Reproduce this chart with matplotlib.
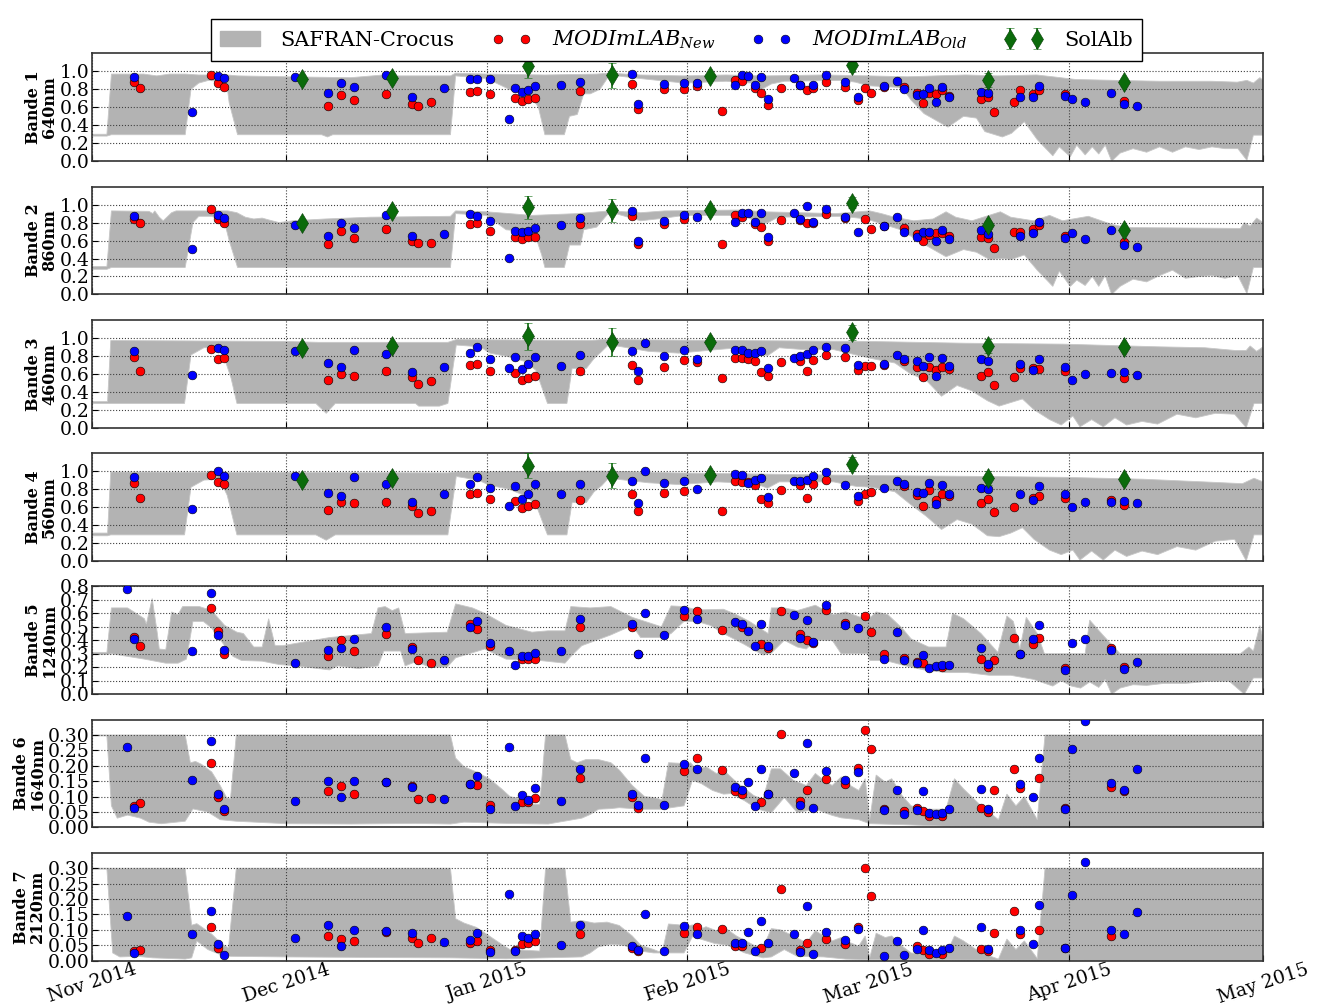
import numpy as np
import matplotlib
matplotlib.use('Agg')
import matplotlib.pyplot as plt
import matplotlib.dates as mdates
from matplotlib.patches import Patch
from matplotlib.lines import Line2D
from datetime import datetime

plt.rcParams['font.family'] = 'DejaVu Serif'
plt.rcParams['mathtext.fontset'] = 'dejavuserif'

n = np.nan
start = datetime(2014, 11, 1)

# ---- observation days (days since 1 Nov 2014, overpass ~10:30) ----
obs_days = [5, 6, 7, 15, 18, 19, 20,
            31, 36, 38, 40, 45,
            49, 50, 52, 54,
            58, 59, 61,
            64, 65, 66, 67, 68,
            72, 75,
            83, 84, 85,
            88, 91, 93, 97,
            99, 100, 101, 102, 103, 104,
            106, 108, 109, 110, 111, 113,
            116, 118, 119, 120,
            122, 124, 125, 127, 128, 129, 130, 131, 132,
            137, 138, 139,
            142, 143, 145, 146,
            150, 151, 153,
            157, 159, 161]

# MODImLAB new / old, per band
b1_new = [n, .88, .82, n, .96, .87, .83,
          n, .62, .74, .68, .75,
          .64, .62, .66, n,
          .77, .78, .75,
          n, .70, .67, .69, .70,
          n, .78,
          .86, .58, n,
          .805, .80, .84, .56,
          .90, .89, n, .81, .76, .63,
          .81, n, .85, .79, .82, .88,
          .83, .68, .82, .76,
          .83, n, .83, .76, .65, .76, .75, .79, .73,
          .69, .72, .55,
          .66, .79, .75, .79,
          .75, n, n,
          n, .67, n]
b1_old = [n, .94, n, .55, n, .95, .93,
          .94, .76, .87, .83, .96,
          .71, n, n, .82,
          .92, .92, .91,
          .47, .82, .77, .79, .84,
          .85, .88,
          .97, .64, n,
          .86, .87, .87, n,
          .85, .96, .95, .85, .94, .69,
          n, .93, .85, n, .85, .96,
          .88, .71, n, n,
          .84, .89, .80, .74, .75, .82, .66, .83, .72,
          .77, .76, n,
          n, .72, .72, .84,
          .73, .69, .66,
          .76, .64, .62]
b2_new = [n, .835, .80, n, .955, .84, .79,
          n, .56, .71, .63, .73,
          .60, .57, .57, n,
          .78, .79, .71,
          n, .64, .62, .64, .64,
          n, .78,
          .87, .56, n,
          .78, .835, n, .56,
          .88, .865, n, .78, .75, .60,
          .83, n, .83, .79, .80, .90,
          .85, n, .835, .73,
          .76, n, .745, .67, .60, .66, .685, .685, .65,
          .64, .63, .52,
          .69, .69, .73, .77,
          .655, n, n,
          n, .585, n]
b2_old = [n, .87, n, .51, n, .88, .85,
          .77, .65, .79, .74, .89,
          .65, n, n, .67,
          .90, .87, .82,
          .41, .71, .70, .71, .74,
          .77, .85,
          .93, .60, n,
          .82, .88, .865, n,
          .81, .91, .91, .81, .91, .64,
          n, .91, .84, .98, .81, .95,
          .865, .69, n, n,
          .76, .865, .70, .64, .70, .70, .595, .72, .62,
          .72, .67, n,
          n, .65, .68, .805,
          .63, .685, .62,
          .72, .55, .53]
b3_new = [n, .79, .63, n, .88, .77, .78,
          n, .53, .60, .58, .63,
          .56, .49, .52, n,
          .70, .71, .63,
          n, .61, .53, .55, .57,
          n, .63,
          .70, .53, n,
          .68, .75, .73, .55,
          .78, .78, .76, .74, .62, .58,
          .73, n, .74, .63, .75, .81,
          .79, .64, .69, .69,
          .70, n, .74, .68, .56, .68, .64, .68, .65,
          .58, .62, .48,
          .56, .67, .66, .65,
          .63, n, n,
          n, .55, n]
b3_old = [n, .85, n, .59, n, .89, .87,
          .85, .72, .68, .87, .82,
          .62, n, n, .68,
          .83, .90, .76,
          .67, .79, .65, .71, .79,
          .69, .81,
          .85, .63, .94,
          .80, .87, .77, n,
          .87, .87, .83, .83, .85, .67,
          n, .78, .80, .82, .87, .90,
          .89, .70, n, n,
          .71, .81, .77, .74, .69, .79, .57, .78, .69,
          .76, .74, n,
          n, .71, .64, .76,
          .68, .53, .60,
          .61, .62, .59]
b4_new = [n, .87, .70, n, .955, .875, .86,
          n, .57, .66, .64, .66,
          .61, .53, .56, n,
          .75, .76, .69,
          n, .67, .585, .61, .63,
          n, .68,
          .75, .56, n,
          .76, .78, n, .56,
          .89, .88, .88, .84, .69, .645,
          .79, n, .845, .70, .86, .90,
          n, .67, .75, .77,
          n, n, .83, .73, .61, .785, .68, .74, .72,
          .65, .69, .54,
          .60, n, .705, .72,
          .70, n, n,
          .68, .62, n]
b4_old = [n, .93, n, .58, n, 1.0, .94,
          .94, .755, .725, .93, .86,
          .66, n, n, .75,
          .86, .93, .81,
          .61, .83, .69, .75, .86,
          .74, .86,
          .89, .64, 1.0,
          .87, .89, .80, n,
          .97, .955, .87, .905, .92, .71,
          n, .89, .89, .905, .95, .99,
          .85, .72, n, n,
          .81, .89, .86, .77, .755, .87, .63, .84, .74,
          .81, .80, n,
          n, .75, .68, .83,
          .74, .60, .66,
          .66, .67, .64]
b5_new = [n, .425, .36, n, .64, .47, .30,
          n, .28, .40, .32, .45,
          .35, .25, .23, n,
          .52, .48, .36,
          n, n, .26, .26, .26,
          n, .50,
          .50, .30, n,
          n, .58, .615, .475,
          n, .50, n, n, .37, .34,
          .62, n, .45, .405, .38, .625,
          .53, n, .58, .46,
          .30, n, .27, .235, .23, n, n, .20, n,
          .26, .20, .25,
          .42, .30, .37, .42,
          .195, n, n,
          .34, .20, n]
b5_old = [.78, .41, n, .32, .75, .44, .33,
          .23, .33, .345, .41, .50,
          .335, n, n, .25,
          .50, .54, .38,
          .32, .22, .285, .28, .305,
          .32, .56,
          .52, .30, .60,
          .44, .625, .56, n,
          .535, .52, .47, .355, .52, .355,
          n, .59, .42, .55, .39, .665,
          .51, .49, n, n,
          .26, .46, .25, .23, .29, .195, .21, .22, .22,
          .345, .225, n,
          n, .295, .41, .51,
          .18, .38, .41,
          .33, .19, .24]
b6_new = [n, .07, .078, n, .21, .099, .053,
          n, .117, .133, .11, .147,
          .133, .093, .097, n,
          .14, .137, .073,
          n, n, .084, .082, .097,
          n, .16,
          .10, .064, n,
          n, .183, .224, .185,
          .118, .11, n, n, .084, .11,
          .303, n, .086, .12, n, .157,
          .142, .193, .317, .256,
          .059, n, .052, .062, .054, .037, n, .037, n,
          .064, .051, .122,
          .19, .127, n, .16,
          .064, n, n,
          .131, .117, n]
b6_old = [.262, .062, n, .154, .28, .108, .06,
          .087, .152, .10, .152, .147,
          .13, n, n, .092,
          .14, .167, .06,
          .26, .068, .105, .09, .128,
          .087, .19,
          .11, .073, .225,
          .074, .207, .19, n,
          .132, .12, .147, .07, .19, .108,
          n, .177, .074, .274, .062, .183,
          .154, .18, n, n,
          .055, .122, .045, .055, .117, .047, .042, .047, .059,
          .124, .059, n,
          n, .14, .10, .225,
          .061, .254, .345,
          .145, .12, .19]
b7_new = [n, .031, .036, n, .11, .042, n,
          n, .08, .07, .063, .093,
          .074, .057, .073, n,
          .056, .065, .034,
          n, .036, .055, .057, .064,
          n, .085,
          .04, .03, n,
          n, .09, .11, .104,
          .047, .047, n, n, .042, n,
          .234, n, .034, .058, n, .069,
          .053, .11, .302, .21,
          n, n, n, .047, .033, .02, n, .02, n,
          .037, .03, .09,
          .162, .087, n, .10,
          .04, n, n,
          .081, n, n]
b7_old = [.145, .025, n, .085, .16, .053, .017,
          .075, .117, .047, .098, .095,
          .09, n, n, .06,
          .066, .09, .028,
          .215, .03, .08, .073, .088,
          .05, .116,
          .048, .036, .153,
          .03, .114, .087, n,
          .058, .058, .092, .03, .13, .058,
          n, .085, .029, .177, .02, .092,
          .067, .102, n, n,
          .015, .063, .018, .038, .098, .033, .025, .033, .042,
          .108, .037, n,
          n, .10, .055, .179,
          .04, .214, .319,
          .098, .087, .157]

# ---- SolAlb (bands 1-4) ----
sol_days = [32, 46, 67, 80, 95, 117, 138, 159]
sol_b1 = [0.91, 0.93, 1.06, 0.955, 0.95, 1.07, 0.905, 0.88]
sol_b2 = [0.80, 0.925, 0.97, 0.935, 0.935, 1.02, 0.77, 0.72]
sol_b3 = [0.89, 0.91, 1.02, 0.95, 0.95, 1.06, 0.91, 0.90]
sol_b4 = [0.905, 0.925, 1.06, 0.95, 0.96, 1.08, 0.925, 0.91]
err_b1 = [0, 0, 0.13, 0.135, 0, 0.08, 0.075, 0]
err_b2 = [0, 0, 0.13, 0.125, 0, 0.06, 0.04, 0]
err_b3 = [0, 0, 0.15, 0.155, 0, 0.086, 0.073, 0]
err_b4 = [0, 0, 0.14, 0.14, 0, 0.08, 0.075, 0]

# ---- SAFRAN-Crocus envelope (day, value) ----
b1_hi = [(0, .30), (2.3, .30), (3.0, .97), (8, .97), (10, .95), (12, .97), (14.4, .97), (16.5, .96),
         (21, .96), (22.5, .95), (30, .94), (40, .93), (45, .96), (47, .95), (55.4, .95), (56.2, .98),
         (61, .97), (70, .96), (78, .97), (80, .98), (84.8, .96), (91.5, .95), (98, .96), (104, .95),
         (113, .96), (120, .95), (126, .94), (135, .96), (140, .95), (146, .96), (148.5, .94), (152, .91),
         (158, .90), (165, .89), (173, .89), (177, .88), (178.5, .90), (179.5, .87), (180.5, .93), (181, .90)]
b1_lo = [(0, .28), (2.3, .28), (3.0, .295), (14.4, .295), (15.3, .80), (16.5, .87), (18, .90), (20.8, .88),
         (21.2, .65), (22.5, .295), (35.5, .295), (36.4, .27), (37.2, .295), (55.4, .295), (56.2, .95),
         (61, .92), (64.5, .80), (67.8, .73), (69, .60), (70, .295), (73, .295), (73.8, .50), (75, .52),
         (76, .75), (77, .75), (78.5, .80), (80, .96), (84.8, .92), (91.5, .87), (98, .89), (102, .87),
         (103.5, .80), (105, .86), (107, .89), (116, .90), (118, .88), (120, .84), (125.2, .82),
         (126.6, .68), (128.6, .53), (132.3, .38), (134.7, .50), (136.7, .48), (138, .33), (140.7, .27),
         (142.1, .31), (144.1, .44), (146.1, .24), (148.5, .06), (149.5, .16), (151.2, .05), (152.2, .18),
         (153.5, .07), (154.6, .16), (155.6, .08), (156.6, .18), (157.6, .0), (158.9, .09), (160.9, .14),
         (163, .10), (165, .16), (167, .10), (169, .16), (171.1, .13), (173.1, .16), (175.1, .14),
         (177.1, .14), (178.5, .01), (179.5, .29), (181, .29)]
b2_hi = [(0, .31), (2.3, .31), (3.0, .93), (8.8, .925), (9.4, .90), (9.7, .93), (10.4, .86), (11, .82),
         (12.3, .91), (13, .93), (21, .93), (22.4, .91), (23.7, .86), (25, .84), (26.3, .85), (27.3, .83),
         (28.9, .80), (31, .82), (36, .84), (43, .86), (55.4, .87), (56.2, .93), (61, .92), (68, .88),
         (75, .90), (80, .93), (84.8, .91), (88.5, .93), (100, .94), (104, .92), (115, .90), (120.2, .93),
         (122, .90), (124, .86), (127, .82), (130, .84), (132, .92), (133.5, .86), (136, .82), (140.4, .92),
         (142, .86), (145.5, .82), (148, .88), (150, .82), (154, .87), (157.6, .78), (160, .745),
         (177.5, .735), (178.1, .80), (179, .76), (180, .85), (181, .80)]
b2_lo = [(0, .28), (2.3, .28), (3.0, .30), (14.4, .30), (15.6, .80), (16.5, .87), (18.5, .87), (20.5, .80),
         (21.2, .60), (22.5, .30), (55.4, .30), (56.2, .90), (61, .88), (64, .72), (67, .70), (68.5, .66),
         (69.5, .44), (70, .30), (73, .30), (73.8, .55), (75.5, .55), (76, .72), (78, .75), (80, .92),
         (84.8, .82), (88.5, .85), (91.5, .88), (101, .88), (103, .78), (104.5, .80), (106, .86), (116, .87),
         (119.7, .84), (125, .72), (127.9, .59), (129.3, .53), (132, .42), (134.7, .50), (136.7, .47),
         (138.7, .39), (140.7, .40), (142.1, .39), (144.1, .44), (146.1, .27), (148.5, .09), (149.5, .26),
         (151.2, .09), (152.2, .16), (153.5, .10), (154.6, .20), (155.6, .09), (156.6, .21), (157.6, .0),
         (158.9, .09), (160.9, .17), (163, .14), (165, .21), (167, .27), (169, .18), (171.1, .20),
         (173.1, .21), (175.1, .18), (177.1, .21), (178.5, .01), (179.5, .30), (181, .30)]
b3_hi = [(0, .29), (2.4, .29), (2.9, .97), (30, .96), (35, .95), (55, .95), (56.3, .98), (77, .97),
         (78.8, .98), (120, .96), (135, .94), (150, .93), (165, .90), (172, .89), (176.6, .86),
         (178.4, .86), (179, .91), (180, .85), (181, .90)]
b3_lo = [(0, .27), (2.4, .27), (14.3, .27), (15.3, .81), (17.3, .89), (19.5, .89), (20.3, .81),
         (21.5, .55), (22.4, .27), (34.6, .27), (36.2, .16), (37.6, .27), (50, .27), (50.5, .24),
         (53.7, .24), (55, .27), (56.3, .92), (60, .90), (61.5, .83), (64.4, .79), (66.8, .74),
         (68.6, .64), (70.4, .27), (73.4, .27), (74.2, .66), (76.4, .66), (77.6, .77), (78.8, .85),
         (80.2, .95), (81.1, .91), (86, .85), (90.7, .83), (96.7, .87), (100, .89), (102.6, .85),
         (104.4, .80), (106.2, .89), (109.8, .87), (114.6, .87), (118.1, .81), (120.5, .77), (124.1, .72),
         (126.5, .60), (128.9, .53), (131.3, .35), (133.7, .47), (136, .41), (138.4, .30), (140.2, .24),
         (142, .28), (143.8, .32), (145.6, .20), (148, .09), (149.8, .03), (151.6, .13), (152.7, .01),
         (154.5, .09), (156.3, .01), (158.1, .11), (159.9, .03), (162.3, .07), (164.7, .04), (167.7, .15),
         (170.6, .11), (173.6, .16), (176.6, .15), (178.4, .0), (179.6, .27), (181, .27)]
b4_hi = [(0, .31), (2.4, .31), (2.9, .99), (55, .98), (56.3, .99), (78.8, 1.0), (90, .98), (120.5, .95),
         (138.4, .94), (150.5, .93), (162.3, .91), (171.8, .88), (177.8, .86), (179.6, .92), (181, .88)]
b4_lo = [(0, .28), (2.4, .28), (2.9, .29), (14.3, .29), (15.3, .82), (17.3, .90), (19.7, .91),
         (20.9, .73), (22.4, .29), (34.6, .29), (36.2, .23), (37.6, .29), (55, .29), (56.3, .94),
         (59.7, .90), (61.5, .84), (64.4, .80), (66.8, .73), (68.6, .63), (70.4, .29), (73.4, .29),
         (74.2, .65), (76.4, .65), (77.6, .77), (78.8, .84), (80.2, .95), (81.1, .91), (86, .87),
         (90.7, .85), (96.7, .88), (102.6, .86), (104.4, .81), (106.2, .88), (114.6, .88), (118.1, .83),
         (120.5, .82), (124.1, .77), (126.5, .63), (128.9, .50), (131.3, .35), (133.7, .46), (136, .41),
         (138.4, .28), (140.2, .27), (142, .31), (143.8, .37), (145.6, .24), (148, .12), (149.8, .07),
         (151.6, .12), (152.7, .01), (154.5, .11), (156.3, .01), (158.1, .12), (159.9, .05), (162.3, .11),
         (164.7, .07), (167.7, .16), (170.6, .12), (173.6, .22), (176.6, .24), (178.4, .0), (179.6, .29),
         (181, .29)]
b5_hi = [(0, .31), (2.3, .31), (3.0, .64), (5.5, .64), (8.1, .56), (8.4, .52), (9.3, .71), (10.1, .45),
         (10.4, .335), (11.4, .33), (12.3, .61), (13.3, .59), (14.0, .65), (16.6, .65), (18.5, .62),
         (20.5, .51), (22.4, .46), (23.4, .45), (25, .35), (26.3, .35), (27.3, .56), (28.3, .36),
         (29.5, .36), (36.7, .42), (43.2, .45), (44.2, .64), (45.3, .65), (46.4, .62), (47.4, .64),
         (48.4, .45), (54.9, .46), (56.2, .67), (58.8, .64), (60.7, .60), (64, .51), (68, .46), (70.5, .47),
         (73.1, .47), (74, .65), (77, .64), (80.2, .65), (83.5, .57), (84.8, .55), (88, .50), (89.5, .655),
         (91.5, .65), (93.5, .625), (97.6, .63), (99.6, .59), (101.6, .54), (104.5, .45), (105, .64),
         (107, .64), (109, .62), (111.8, .66), (114.5, .59), (116.5, .61), (118.5, .575), (119.9, .55),
         (121.2, .61), (123, .59), (125.2, .49), (126.6, .41), (129.3, .35), (132, .35), (133, .60),
         (134.7, .56), (137.4, .45), (140, .31), (141.4, .58), (142.4, .54), (143.4, .335), (144.4, .57),
         (146.1, .45), (147.2, .30), (153.5, .30), (154.2, .55), (156.2, .44), (158.9, .30), (177.5, .30),
         (178.8, .35), (179.5, .32), (180.5, .51), (181, .41)]
b5_lo = [(0, .295), (2.3, .295), (3.0, .30), (8.1, .26), (11.4, .23), (13.3, .23), (14.6, .26),
         (15.6, .54), (17.2, .54), (18.5, .49), (20.5, .36), (21.8, .28), (23.1, .25), (26.3, .245),
         (28.9, .22), (31.5, .21), (36.7, .18), (38, .21), (41.2, .19), (44.2, .21), (45.1, .32),
         (47.7, .32), (48.4, .21), (50, .24), (52.3, .20), (54.9, .20), (56.2, .27), (60.7, .335),
         (64, .26), (69.2, .25), (73.1, .23), (74, .28), (75.7, .36), (80.2, .44), (83.5, .51),
         (84.8, .42), (88, .42), (89.5, .45), (91.5, .54), (93.5, .54), (95.6, .51), (98, .44),
         (100.8, .37), (103.7, .29), (105, .305), (107, .40), (109, .35), (110.4, .335), (111.8, .40),
         (114.4, .40), (115.8, .30), (119.9, .30), (120.2, .25), (122.6, .25), (126.6, .20), (128.6, .18),
         (132, .16), (135.3, .16), (138.7, .14), (142, .14), (145.5, .11), (148.5, .06), (149.8, .10),
         (151.4, .06), (152.8, .045), (154.2, .09), (155.6, .05), (156.6, .11), (157.6, .0), (158.9, .045),
         (160.9, .07), (163, .065), (165.7, .08), (169, .08), (172.4, .095), (175.8, .095), (178.1, .0),
         (179.5, .12), (181, .12)]
b6_hi = [(0, .30), (14.4, .30), (15.2, .21), (16.0, .214), (16.9, .205), (18.5, .18), (19.8, .136),
         (20.8, .097), (21.4, .092), (22.3, .30), (55.4, .30), (56.2, .225), (57.5, .197), (59.4, .18),
         (61.4, .158), (63.3, .125), (64.6, .10), (65.9, .094), (67.9, .075), (69.2, .075), (70.1, .30),
         (73.1, .30), (74, .22), (75, .21), (76.3, .22), (78.3, .22), (80.2, .21), (81.5, .186),
         (83.5, .136), (85.4, .10), (86.8, .097), (88.1, .09), (89.1, .21), (91, .208), (91.5, .20),
         (92.5, .21), (93.5, .186), (94.9, .197), (96.5, .175), (97.6, .186), (99.6, .147), (102.3, .103),
         (103.7, .092), (105, .19), (106.4, .19), (108.4, .153), (110.4, .136), (111.8, .175),
         (113.1, .153), (114.4, .136), (115.8, .164), (117.2, .136), (118.5, .12), (119.5, .158),
         (120.2, .025), (121.2, .17), (122.6, .147), (123.6, .158), (125.2, .103), (126.6, .07),
         (128.6, .059), (132, .059), (133.3, .158), (134.7, .125), (137.4, .07), (140.1, .025),
         (141.4, .108), (142.8, .07), (144.1, .10), (146.1, .025), (147.3, .30), (181, .30)]
b6_lo = [(0, .297), (2.3, .297), (3.0, .07), (3.9, .03), (5.5, .04), (7.5, .03), (8.8, .017),
         (10.7, .012), (14.4, .02), (15.6, .06), (17.9, .05), (19.8, .025), (22.3, .02), (30, .012),
         (40, .011), (50, .013), (55.4, .011), (57.5, .017), (64, .013), (70.5, .011), (75.7, .03),
         (77, .042), (78.3, .059), (80.2, .061), (81.5, .064), (84.8, .059), (88.1, .059), (89.5, .064),
         (91.5, .07), (92.8, .153), (94.2, .142), (95.9, .12), (97.6, .108), (98.9, .11), (100.9, .086),
         (102.9, .059), (105, .048), (107, .097), (109, .048), (111.8, .059), (114.4, .039), (115.8, .031),
         (118.5, .025), (120.2, .012), (125.2, .009), (132, .004), (138.7, .003), (147.3, .003), (152, .0),
         (181, .0)]
b7_hi = [(0, .30), (14.4, .30), (15.4, .115), (16.2, .12), (16.9, .11), (18.5, .086), (20.1, .053),
         (21.1, .042), (22.3, .30), (55.4, .30), (56.2, .136), (57.5, .122), (59.4, .108), (61.4, .08),
         (63.3, .053), (64.6, .036), (66.6, .034), (69.2, .031), (70.1, .30), (73.1, .30), (74, .125),
         (75.7, .13), (77.6, .122), (79.6, .125), (81.5, .114), (83.5, .08), (84.8, .05), (86.8, .036),
         (88.1, .025), (89.1, .119), (90.8, .116), (91.5, .11), (92.8, .116), (93.8, .10), (94.9, .11),
         (96.5, .097), (97.6, .11), (99.6, .08), (102.3, .05), (103.7, .042), (105, .104), (106.4, .10),
         (108.4, .08), (110.4, .058), (111.8, .097), (113.1, .08), (114.4, .064), (115.8, .075),
         (117.2, .058), (118.5, .047), (119.5, .08), (120.2, .009), (121.2, .089), (122.6, .075),
         (123.6, .08), (125.2, .047), (126.6, .025), (128.6, .02), (132, .02), (133.3, .08), (134.7, .064),
         (137.4, .025), (140.1, .005), (141.4, .07), (142.8, .036), (144.1, .064), (146.1, .007),
         (147.3, .30), (181, .30)]
b7_lo = [(0, .297), (2.3, .297), (3.2, .025), (4.3, .012), (7, .014), (9.4, .009), (12, .007),
         (14.4, .005), (15.4, .009), (16.2, .064), (17.9, .036), (19.8, .02), (21.4, .014), (30, .012),
         (45, .01), (55.4, .009), (64, .006), (75.7, .012), (77, .025), (78.3, .045), (80.2, .053),
         (82.2, .05), (84.1, .033), (86.8, .025), (91.5, .025), (92.8, .078), (94.2, .069), (96.2, .056),
         (98.2, .05), (100.9, .025), (103.7, .009), (105, .012), (107, .036), (109, .014), (113.1, .012),
         (116.5, .005), (120.2, .003), (147.3, .001), (181, .0)]

band_names = ['Bande 1\n640nm', 'Bande 2\n860nm', 'Bande 3\n460nm', 'Bande 4\n560nm',
              'Bande 5\n1240nm', 'Bande 6\n1640nm', 'Bande 7\n2120nm']
new_vals = [b1_new, b2_new, b3_new, b4_new, b5_new, b6_new, b7_new]
old_vals = [b1_old, b2_old, b3_old, b4_old, b5_old, b6_old, b7_old]
env_hi = [b1_hi, b2_hi, b3_hi, b4_hi, b5_hi, b6_hi, b7_hi]
env_lo = [b1_lo, b2_lo, b3_lo, b4_lo, b5_lo, b6_lo, b7_lo]
sol_vals = [sol_b1, sol_b2, sol_b3, sol_b4]
sol_errs = [err_b1, err_b2, err_b3, err_b4]

green = '#0b6b0b'
t0 = mdates.date2num(start)
x_obs = t0 + np.array(obs_days) + 10.5 / 24
x_sol = t0 + np.array(sol_days) + 10.5 / 24

fig, axes = plt.subplots(7, 1, sharex=True, figsize=(13.24, 10.08), dpi=100)
fig.subplots_adjust(left=0.0695, right=0.954, top=0.947, bottom=0.047, hspace=0.236)

sol_handle = None
for i, ax in enumerate(axes):
    hi = np.array(env_hi[i])
    lo = np.array(env_lo[i])
    px = np.concatenate([t0 + hi[:, 0], t0 + lo[::-1, 0]])
    py = np.concatenate([hi[:, 1], lo[::-1, 1]])
    ax.fill(px, py, facecolor='0.7', edgecolor='0.78', lw=0.6, zorder=1)

    ax.plot(x_obs, new_vals[i], 'o', color='red', ms=6.3, mec='k', mew=0.4, zorder=3)
    ax.plot(x_obs, old_vals[i], 'o', color='blue', ms=6.3, mec='k', mew=0.4, zorder=3)
    if i < 4:
        eb = ax.errorbar(x_sol, sol_vals[i], yerr=sol_errs[i], fmt='d', color=green,
                         ms=10, mec='#063d06', mew=0.4, capsize=3, elinewidth=1.2, zorder=4)
        if sol_handle is None:
            sol_handle = eb

    if i < 4:
        ax.set_ylim(0, 1.2)
        ax.set_yticks(np.arange(0, 1.01, 0.2))
        ax.yaxis.set_major_formatter(plt.FormatStrFormatter('%.1f'))
    elif i == 4:
        ax.set_ylim(0, 0.8)
        ax.set_yticks(np.arange(0, 0.81, 0.1))
        ax.yaxis.set_major_formatter(plt.FormatStrFormatter('%.1f'))
    else:
        ax.set_ylim(0, 0.35)
        ax.set_yticks(np.arange(0, 0.301, 0.05))
        ax.yaxis.set_major_formatter(plt.FormatStrFormatter('%.2f'))

    ax.set_xlim(t0, mdates.date2num(datetime(2015, 5, 1)))
    ax.grid(True, linestyle=':', color='0.25', lw=0.8)
    ax.tick_params(direction='in', length=4, labelsize=13.5, pad=2)
    for s in ax.spines.values():
        s.set_color('0.2')
        s.set_linewidth(1.2)
    ax.set_ylabel(band_names[i], fontweight='bold', fontsize=11.5, linespacing=0.95, labelpad=1)

axes[-1].xaxis.set_major_locator(mdates.MonthLocator())
axes[-1].xaxis.set_major_formatter(mdates.DateFormatter('%b %Y'))
axes[-1].tick_params(axis='x', pad=0)
for lab in axes[-1].get_xticklabels():
    lab.set_rotation(18)
    lab.set_ha('center')

h_safran = Patch(facecolor='0.7', edgecolor='0.7')
h_new = Line2D([], [], ls='none', marker='o', color='red', ms=6.3, mec='k', mew=0.4)
h_old = Line2D([], [], ls='none', marker='o', color='blue', ms=6.3, mec='k', mew=0.4)
fig.legend([h_safran, h_new, h_old, sol_handle],
           ['SAFRAN-Crocus', r'$MODImLAB_{New}$', r'$MODImLAB_{Old}$', 'SolAlb'],
           loc='upper center', bbox_to_anchor=(0.511, 0.991), ncol=4, numpoints=2,
           fancybox=False, edgecolor='k', framealpha=1, fontsize=15,
           columnspacing=1.75, handlelength=1.9, handletextpad=1.0, borderpad=0.45)

fig.savefig('out.png', dpi=100)
